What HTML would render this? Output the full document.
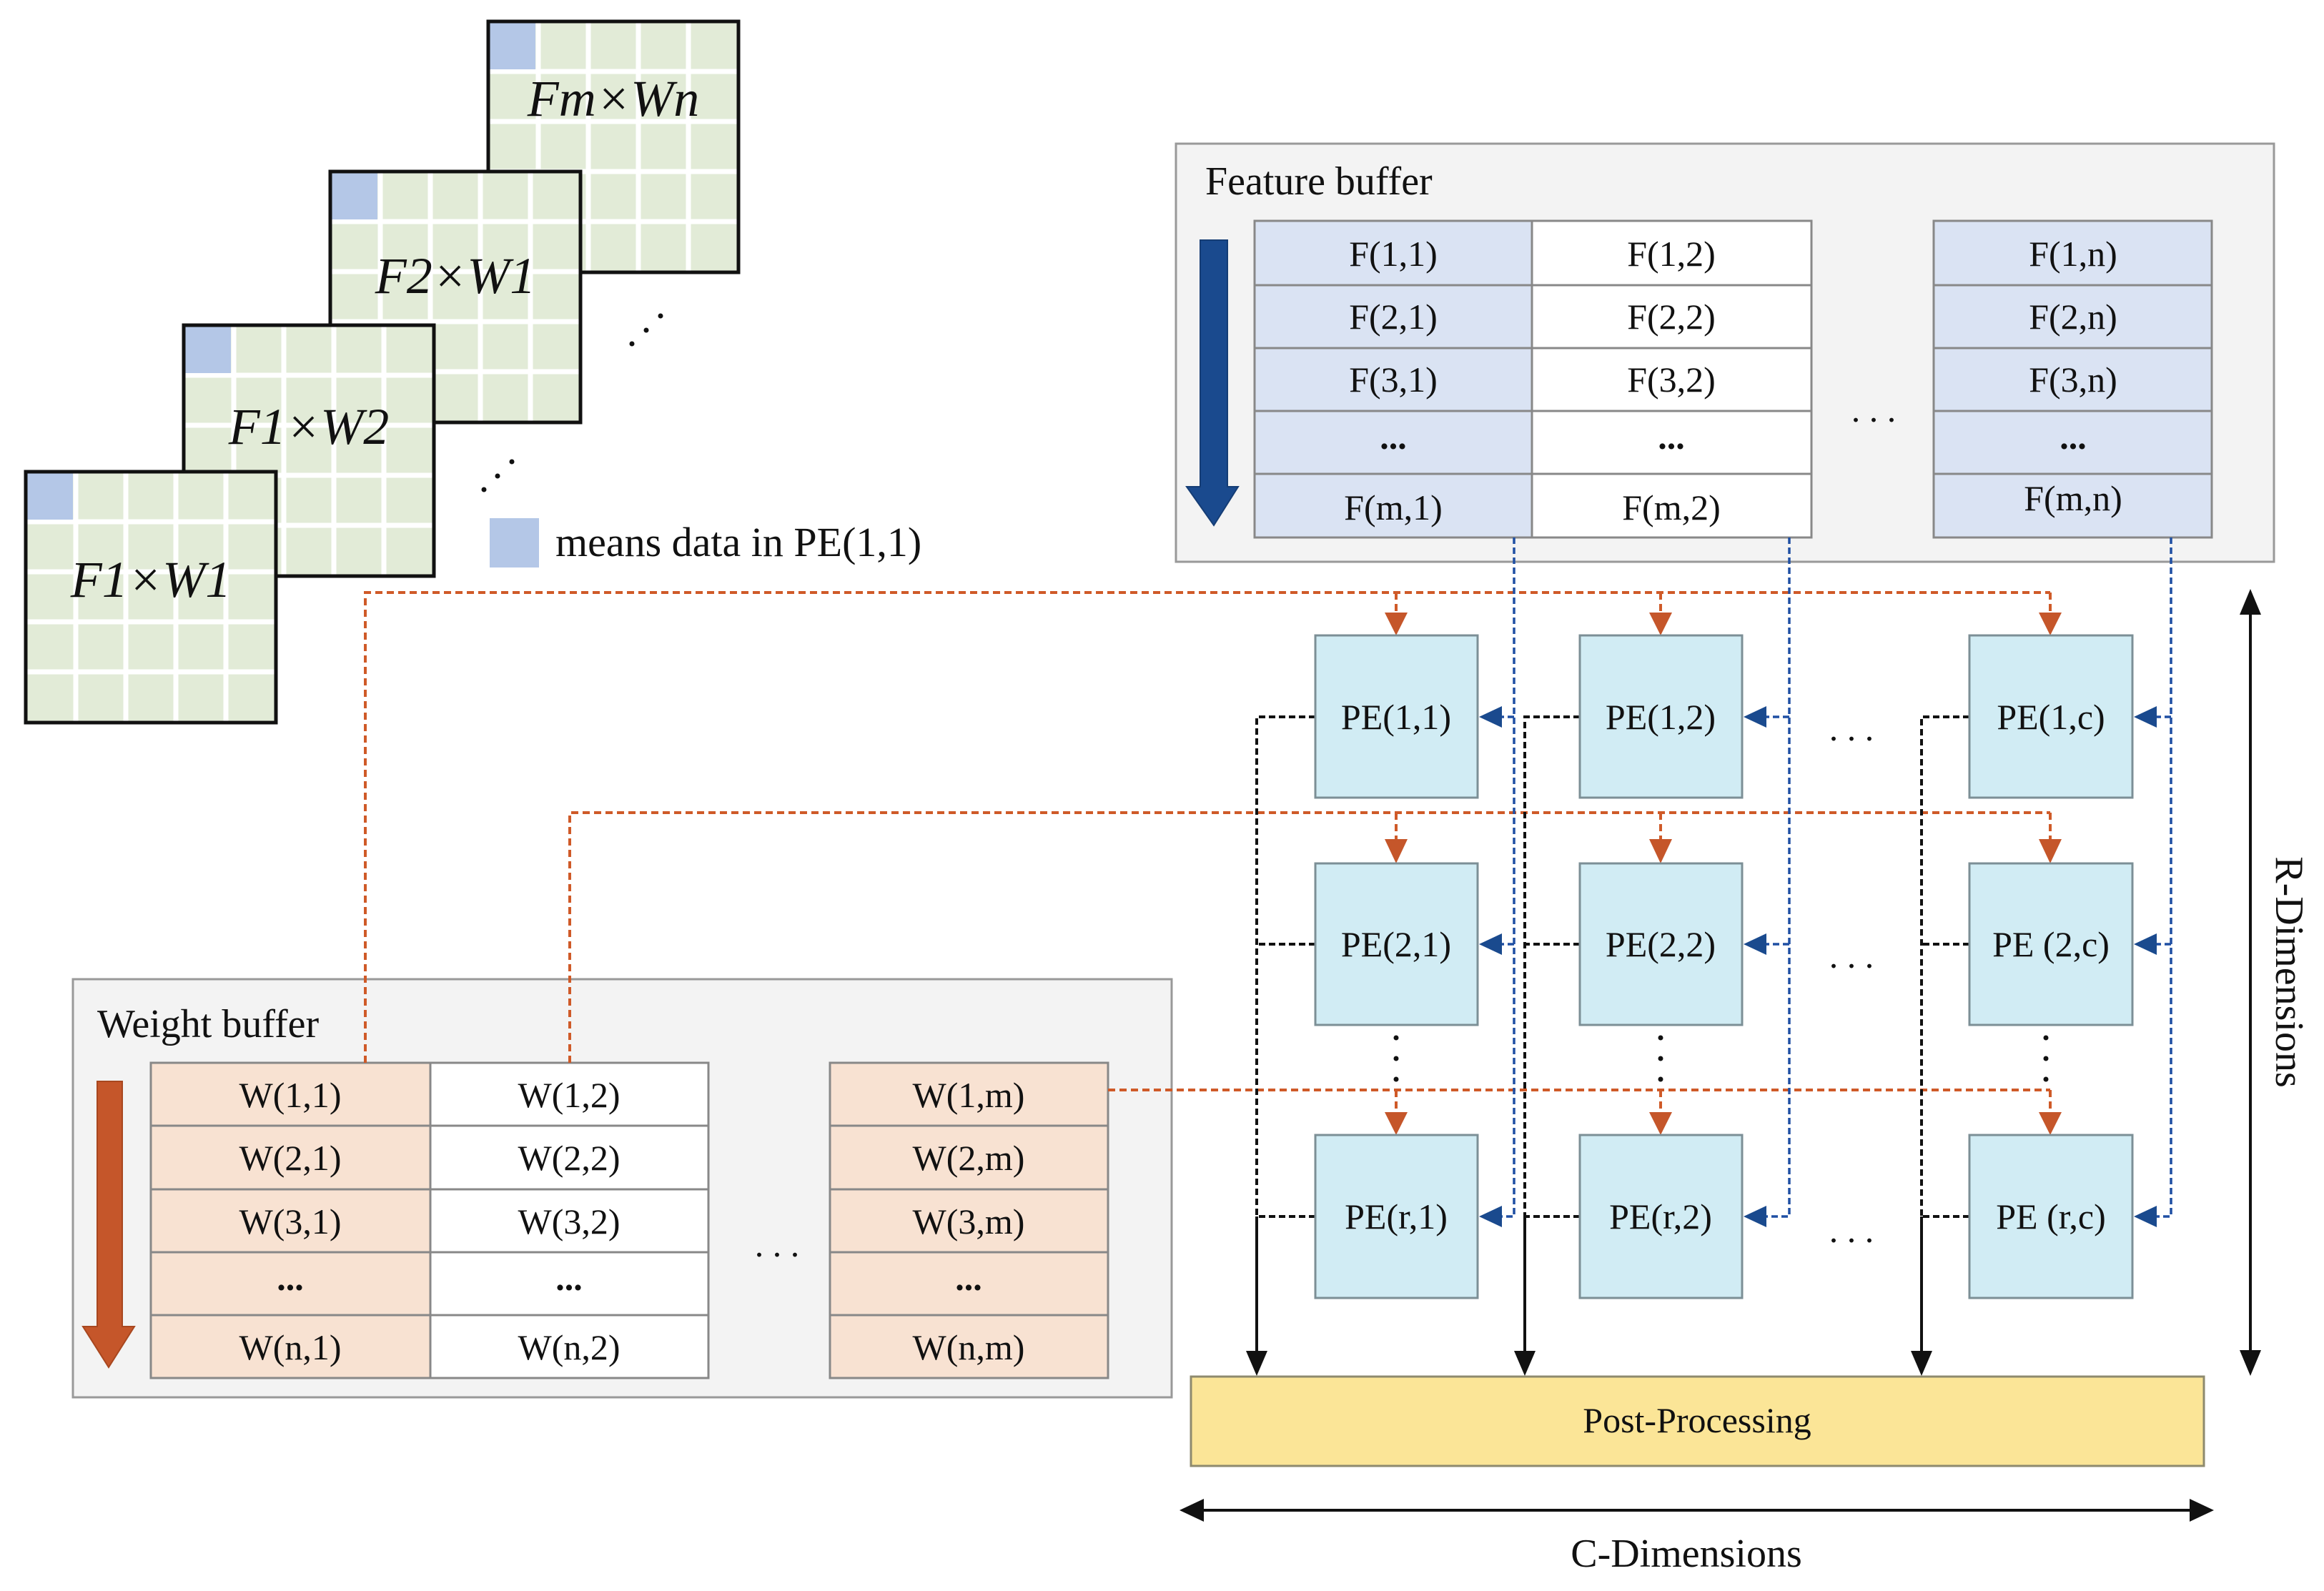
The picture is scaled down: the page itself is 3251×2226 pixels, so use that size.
<!DOCTYPE html>
<html><head><meta charset="utf-8"><style>
html,body{margin:0;padding:0;background:#fff;}
svg{display:block;}
text{font-family:"Liberation Serif",serif;fill:#111;}
</style></head><body>
<svg width="3251" height="2226" viewBox="0 0 3251 2226" xmlns="http://www.w3.org/2000/svg">
<defs>
<g id="grid">
  <rect x="0" y="0" width="350" height="351" fill="#e2ebd7"/>
  <g stroke="#fff" stroke-width="7">
    <line x1="70" y1="0" x2="70" y2="351"/><line x1="140" y1="0" x2="140" y2="351"/>
    <line x1="210" y1="0" x2="210" y2="351"/><line x1="280" y1="0" x2="280" y2="351"/>
    <line x1="0" y1="70" x2="350" y2="70"/><line x1="0" y1="140" x2="350" y2="140"/>
    <line x1="0" y1="210" x2="350" y2="210"/><line x1="0" y1="280" x2="350" y2="280"/>
  </g>
  <rect x="0" y="0" width="66" height="67" fill="#b4c7e7"/>
  <rect x="0" y="0" width="350" height="351" fill="none" stroke="#111" stroke-width="5"/>
</g>
</defs>

<!-- feature maps -->
<g transform="translate(683,30)"><use href="#grid"/><text x="175" y="132" font-size="72" font-style="italic" text-anchor="middle">Fm×Wn</text></g>
<g transform="translate(462,240)"><use href="#grid"/><text x="175" y="170" font-size="72" font-style="italic" text-anchor="middle">F2×W1</text></g>
<g transform="translate(257,455)"><use href="#grid"/><text x="175" y="166" font-size="72" font-style="italic" text-anchor="middle">F1×W2</text></g>
<g transform="translate(36,660)"><use href="#grid"/><text x="175" y="175" font-size="72" font-style="italic" text-anchor="middle">F1×W1</text></g>
<g fill="#111">
<circle cx="884" cy="481" r="3.5"/><circle cx="904" cy="462" r="3.5"/><circle cx="924" cy="442" r="3.5"/>
<circle cx="677" cy="685" r="3.5"/><circle cx="696" cy="666" r="3.5"/><circle cx="716" cy="646" r="3.5"/>
</g>
<rect x="685" y="725" width="69" height="69" fill="#b4c7e7"/>
<text x="777" y="778" font-size="58">means data in PE(1,1)</text>

<!-- Feature buffer -->
<rect x="1645" y="201" width="1536" height="585" fill="#f3f3f3" stroke="#999" stroke-width="3"/>
<text x="1686" y="272" font-size="56">Feature buffer</text>
<rect x="1755" y="309" width="388" height="443" fill="#dae3f3"/>
<rect x="2143" y="309" width="391" height="443" fill="#fff"/>
<rect x="2705" y="309" width="389" height="443" fill="#dae3f3"/>
<g stroke="#888" stroke-width="3" fill="none">
<rect x="1755" y="309" width="779" height="443"/>
<rect x="2705" y="309" width="389" height="443"/>
<line x1="2143" y1="309" x2="2143" y2="752"/>
<line x1="1755" y1="399" x2="2534" y2="399"/><line x1="1755" y1="487" x2="2534" y2="487"/>
<line x1="1755" y1="575" x2="2534" y2="575"/><line x1="1755" y1="663" x2="2534" y2="663"/>
<line x1="2705" y1="399" x2="3094" y2="399"/><line x1="2705" y1="487" x2="3094" y2="487"/>
<line x1="2705" y1="575" x2="3094" y2="575"/><line x1="2705" y1="663" x2="3094" y2="663"/>
</g>
<g font-size="50" text-anchor="middle">
<text x="1949" y="372">F(1,1)</text><text x="2338" y="372">F(1,2)</text><text x="2900" y="372">F(1,n)</text>
<text x="1949" y="460">F(2,1)</text><text x="2338" y="460">F(2,2)</text><text x="2900" y="460">F(2,n)</text>
<text x="1949" y="548">F(3,1)</text><text x="2338" y="548">F(3,2)</text><text x="2900" y="548">F(3,n)</text>
<text x="1949" y="628" font-weight="bold">...</text><text x="2338" y="628" font-weight="bold">...</text><text x="2900" y="628" font-weight="bold">...</text>
<text x="1949" y="727">F(m,1)</text><text x="2338" y="727">F(m,2)</text><text x="2900" y="714">F(m,n)</text>
<text x="2621" y="590">. . .</text>
</g>
<polygon points="1679,336 1717,336 1717,681 1732,681 1698,735 1660,681 1679,681" fill="#1a4a8e" stroke="#153d75" stroke-width="2"/>

<!-- Weight buffer -->
<rect x="102" y="1370" width="1537" height="585" fill="#f3f3f3" stroke="#999" stroke-width="3"/>
<text x="136" y="1451" font-size="56">Weight buffer</text>
<rect x="211" y="1487" width="391" height="441" fill="#f8e2d2"/>
<rect x="602" y="1487" width="389" height="441" fill="#fff"/>
<rect x="1161" y="1487" width="389" height="441" fill="#f8e2d2"/>
<g stroke="#888" stroke-width="3" fill="none">
<rect x="211" y="1487" width="780" height="441"/>
<rect x="1161" y="1487" width="389" height="441"/>
<line x1="602" y1="1487" x2="602" y2="1928"/>
<line x1="211" y1="1575" x2="991" y2="1575"/><line x1="211" y1="1664" x2="991" y2="1664"/>
<line x1="211" y1="1752" x2="991" y2="1752"/><line x1="211" y1="1840" x2="991" y2="1840"/>
<line x1="1161" y1="1575" x2="1550" y2="1575"/><line x1="1161" y1="1664" x2="1550" y2="1664"/>
<line x1="1161" y1="1752" x2="1550" y2="1752"/><line x1="1161" y1="1840" x2="1550" y2="1840"/>
</g>
<g font-size="50" text-anchor="middle">
<text x="406" y="1549">W(1,1)</text><text x="796" y="1549">W(1,2)</text><text x="1355" y="1549">W(1,m)</text>
<text x="406" y="1637">W(2,1)</text><text x="796" y="1637">W(2,2)</text><text x="1355" y="1637">W(2,m)</text>
<text x="406" y="1726">W(3,1)</text><text x="796" y="1726">W(3,2)</text><text x="1355" y="1726">W(3,m)</text>
<text x="406" y="1805" font-weight="bold">...</text><text x="796" y="1805" font-weight="bold">...</text><text x="1355" y="1805" font-weight="bold">...</text>
<text x="406" y="1902">W(n,1)</text><text x="796" y="1902">W(n,2)</text><text x="1355" y="1902">W(n,m)</text>
<text x="1087" y="1758">. . .</text>
</g>
<polygon points="136,1513 171,1513 171,1856 188,1856 152,1913 116,1856 136,1856" fill="#c5562a" stroke="#a8471f" stroke-width="2"/>

<!-- orange dashed lines -->
<g stroke="#cf5a28" stroke-width="4" stroke-dasharray="10,6" fill="none">
<polyline points="511,1487 511,829 2868,829"/>
<polyline points="797,1487 797,1137 2868,1137"/>
<polyline points="1550,1525 2868,1525"/>
<line x1="1953" y1="829" x2="1953" y2="858"/><line x1="2323" y1="829" x2="2323" y2="858"/><line x1="2868" y1="829" x2="2868" y2="858"/>
<line x1="1953" y1="1137" x2="1953" y2="1174"/><line x1="2323" y1="1137" x2="2323" y2="1174"/><line x1="2868" y1="1137" x2="2868" y2="1174"/>
<line x1="1953" y1="1525" x2="1953" y2="1558"/><line x1="2323" y1="1525" x2="2323" y2="1558"/><line x1="2868" y1="1525" x2="2868" y2="1558"/>
</g>
<g fill="#c5562a">
<polygon points="1937,857 1969,857 1953,889"/><polygon points="2307,857 2339,857 2323,889"/><polygon points="2852,857 2884,857 2868,889"/>
<polygon points="1937,1174 1969,1174 1953,1208"/><polygon points="2307,1174 2339,1174 2323,1208"/><polygon points="2852,1174 2884,1174 2868,1208"/>
<polygon points="1937,1556 1969,1556 1953,1588"/><polygon points="2307,1556 2339,1556 2323,1588"/><polygon points="2852,1556 2884,1556 2868,1588"/>
</g>

<!-- black connections -->
<g stroke="#111" stroke-width="4" fill="none">
<g stroke-dasharray="9,5">
<polyline points="1840,1003 1758,1003 1758,1702"/>
<polyline points="2210,1003 2133,1003 2133,1702"/>
<polyline points="2755,1003 2688,1003 2688,1702"/>
<line x1="1840" y1="1321" x2="1758" y2="1321"/><line x1="2210" y1="1321" x2="2133" y2="1321"/><line x1="2755" y1="1321" x2="2688" y2="1321"/>
<line x1="1840" y1="1702" x2="1758" y2="1702"/><line x1="2210" y1="1702" x2="2133" y2="1702"/><line x1="2755" y1="1702" x2="2688" y2="1702"/>
</g>
<line x1="1758" y1="1702" x2="1758" y2="1895"/><line x1="2133" y1="1702" x2="2133" y2="1895"/><line x1="2688" y1="1702" x2="2688" y2="1895"/>
<line x1="3148" y1="850" x2="3148" y2="1898"/>
<line x1="1675" y1="2113" x2="3072" y2="2113"/>
</g>
<g fill="#111">
<polygon points="1743,1890 1773,1890 1758,1925"/><polygon points="2118,1890 2148,1890 2133,1925"/><polygon points="2673,1890 2703,1890 2688,1925"/>
<polygon points="3148,824 3133,860 3163,860"/><polygon points="3148,1925 3133,1889 3163,1889"/>
<polygon points="1650,2113 1684,2097 1684,2129"/><polygon points="3097,2113 3063,2097 3063,2129"/>
</g>

<!-- blue connections -->
<g stroke="#1f4fa3" stroke-width="3.5" stroke-dasharray="9,5" fill="none">
<polyline points="2118,752 2118,1702 2100,1702"/>
<polyline points="2503,752 2503,1702 2470,1702"/>
<polyline points="3037,752 3037,1702 3015,1702"/>
<line x1="2118" y1="1003" x2="2100" y2="1003"/><line x1="2118" y1="1321" x2="2100" y2="1321"/>
<line x1="2503" y1="1003" x2="2470" y2="1003"/><line x1="2503" y1="1321" x2="2470" y2="1321"/>
<line x1="3037" y1="1003" x2="3015" y2="1003"/><line x1="3037" y1="1321" x2="3015" y2="1321"/>
</g>
<g fill="#1a4a8e">
<polygon points="2069,1003 2101,988 2101,1018"/><polygon points="2439,1003 2471,988 2471,1018"/><polygon points="2985,1003 3017,988 3017,1018"/>
<polygon points="2069,1321 2101,1306 2101,1336"/><polygon points="2439,1321 2471,1306 2471,1336"/><polygon points="2985,1321 3017,1306 3017,1336"/>
<polygon points="2069,1702 2101,1687 2101,1717"/><polygon points="2439,1702 2471,1687 2471,1717"/><polygon points="2985,1702 3017,1687 3017,1717"/>
</g>

<!-- PE boxes -->
<g fill="#d1ecf4" stroke="#7c8f96" stroke-width="3">
<rect x="1840" y="889" width="227" height="227"/><rect x="2210" y="889" width="227" height="227"/><rect x="2755" y="889" width="228" height="227"/>
<rect x="1840" y="1208" width="227" height="226"/><rect x="2210" y="1208" width="227" height="226"/><rect x="2755" y="1208" width="228" height="226"/>
<rect x="1840" y="1588" width="227" height="228"/><rect x="2210" y="1588" width="227" height="228"/><rect x="2755" y="1588" width="228" height="228"/>
</g>
<g font-size="50" text-anchor="middle">
<text x="1953" y="1020">PE(1,1)</text><text x="2323" y="1020">PE(1,2)</text><text x="2869" y="1020">PE(1,c)</text>
<text x="1953" y="1338">PE(2,1)</text><text x="2323" y="1338">PE(2,2)</text><text x="2869" y="1338">PE (2,c)</text>
<text x="1953" y="1719">PE(r,1)</text><text x="2323" y="1719">PE(r,2)</text><text x="2869" y="1719">PE (r,c)</text>
<text x="2590" y="1036">. . .</text><text x="2590" y="1354">. . .</text><text x="2590" y="1738">. . .</text>
</g>
<g fill="#111">
<circle cx="1953" cy="1452" r="3.5"/><circle cx="1953" cy="1481" r="3.5"/><circle cx="1953" cy="1510" r="3.5"/>
<circle cx="2323" cy="1452" r="3.5"/><circle cx="2323" cy="1481" r="3.5"/><circle cx="2323" cy="1510" r="3.5"/>
<circle cx="2862" cy="1452" r="3.5"/><circle cx="2862" cy="1481" r="3.5"/><circle cx="2862" cy="1510" r="3.5"/>
</g>

<!-- Post-processing -->
<rect x="1666" y="1926" width="1417" height="125" fill="#fbe597" stroke="#8e8a6e" stroke-width="3"/>
<text x="2374" y="2004" font-size="50" text-anchor="middle">Post-Processing</text>
<text x="2359" y="2192" font-size="56" text-anchor="middle">C-Dimensions</text>
<text x="0" y="0" font-size="56" text-anchor="middle" transform="translate(3184,1360) rotate(90)">R-Dimensions</text>
</svg>
</body></html>
